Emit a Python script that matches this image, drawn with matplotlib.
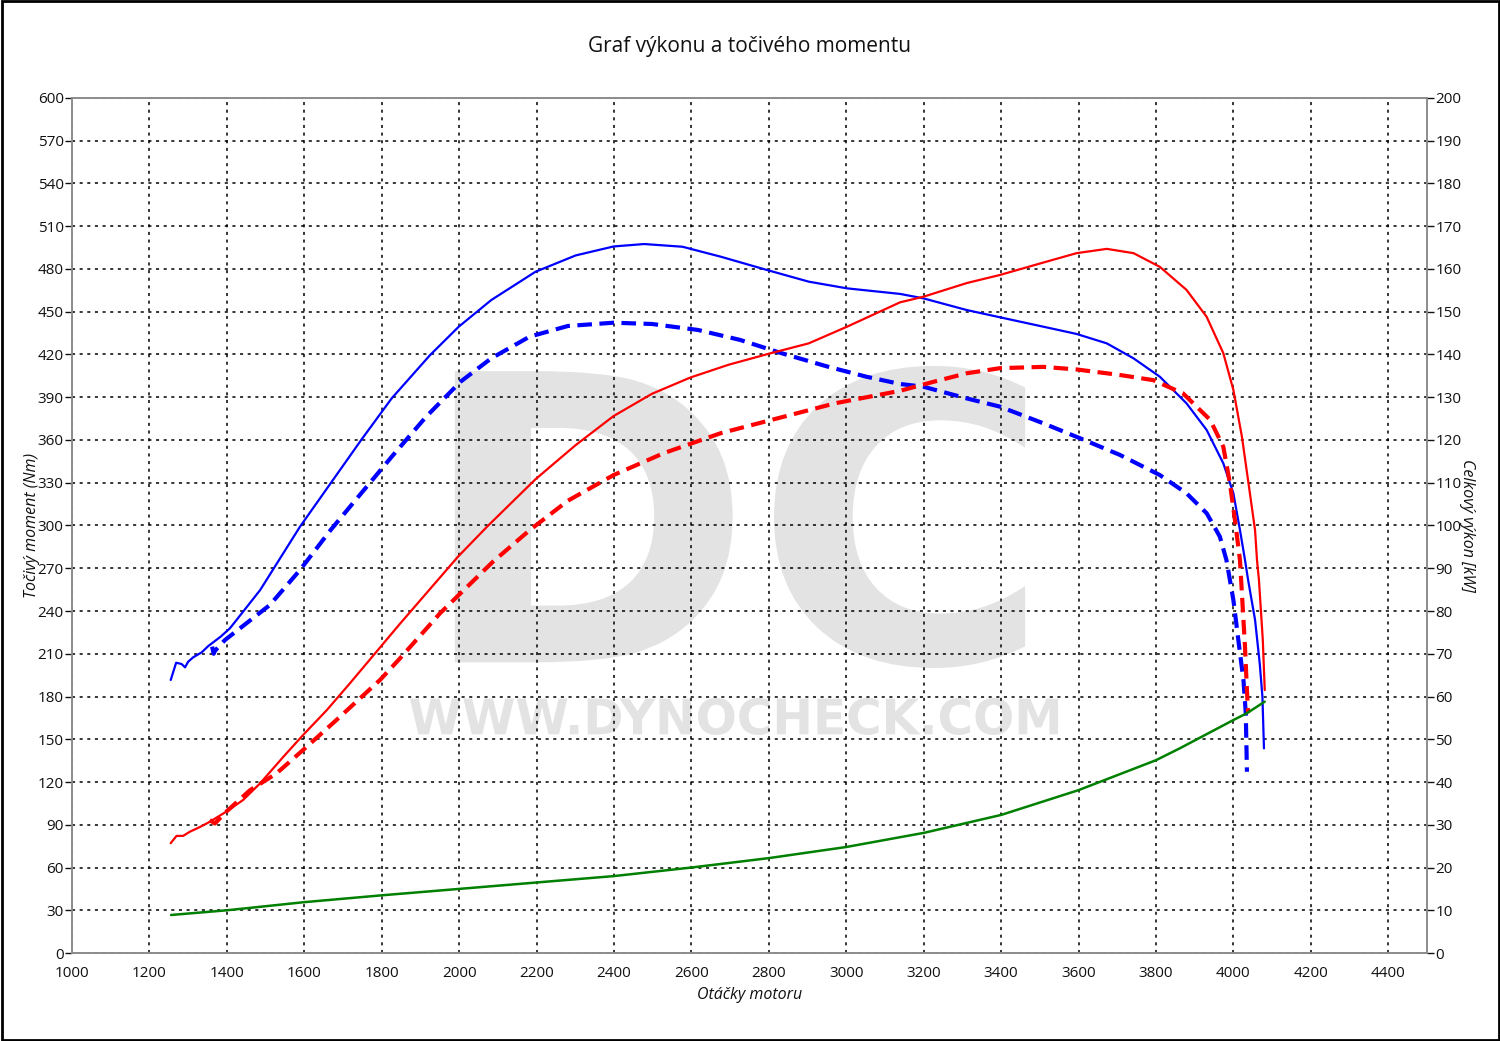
import matplotlib

matplotlib.use("Agg")

import matplotlib.pyplot as plt  # noqa: E402
from matplotlib.font_manager import FontProperties  # noqa: E402
from matplotlib.patches import PathPatch, Rectangle  # noqa: E402
from matplotlib.textpath import TextPath  # noqa: E402
from matplotlib.transforms import Affine2D  # noqa: E402

plt.rcParams["font.family"] = ["Open Sans", "DejaVu Sans"]

_DPI = 100
_INK = "#111111"
_SPINE = "#8c8c8c"
_WATERMARK = "#e3e3e3"

TITLE = "Graf výkonu a točivého momentu"
X_LABEL = "Otáčky motoru"
Y_LABEL = "Točivý moment (Nm)"
Y2_LABEL = "Celkový výkon [kW]"

X_TICKS = list(range(1000, 4401, 200))
Y_TICKS = list(range(0, 601, 30))
Y2_TICKS = list(range(0, 201, 10))

# torque, tuned (Nm)
tq_tuned_rpm = [1255, 1269, 1283, 1292, 1300, 1313, 1335, 1352, 1384, 1408, 1425, 1486,
                1589, 1668, 1747, 1826, 1925, 1999, 2083, 2197, 2301, 2399, 2478, 2577,
                2676, 2795, 2903, 3002, 3139, 3199, 3311, 3397, 3509, 3595, 3673, 3742,
                3810, 3879, 3931, 3974, 4000, 4017, 4030, 4038, 4056, 4068, 4075, 4079]
tq_tuned_nm = [191.6, 203.7, 202.8, 200.5, 204.4, 207.5, 211.0, 215.4, 222.0, 227.9, 233.7,
               254.7, 299.2, 329.6, 360.0, 389.3, 419.6, 439.5, 458.2, 478.0, 489.5, 495.8,
               497.5, 495.6, 488.6, 479.3, 471.1, 466.4, 462.5, 459.4, 451.2, 446.1, 439.5,
               434.4, 427.8, 417.3, 404.4, 385.7, 367.0, 343.6, 322.6, 296.8, 275.8, 261.8,
               233.7, 203.3, 179.9, 143.6]

# torque, stock (Nm)
tq_stock_rpm = [1362, 1366, 1369, 1395, 1511, 1589, 1668, 1747, 1826, 1915, 2004, 2083,
                2182, 2281, 2399, 2498, 2617, 2726, 2834, 2953, 3052, 3139, 3199, 3311,
                3397, 3509, 3604, 3707, 3810, 3879, 3931, 3965, 3982, 3991, 4000, 4017,
                4026, 4032, 4035]
tq_stock_nm = [215.0, 210.0, 212.0, 219.6, 244.2, 268.8, 296.8, 322.6, 348.3, 376.4, 401.0,
               417.3, 432.5, 440.0, 442.3, 441.4, 437.2, 430.2, 420.8, 411.4, 404.4, 399.3,
               397.4, 389.2, 383.4, 371.7, 361.2, 349.5, 335.4, 322.6, 308.6, 292.2, 275.8,
               261.8, 247.7, 210.5, 191.6, 168.4, 127.2]

# power, tuned (kW)
pw_tuned_rpm = [1255, 1270, 1287, 1305, 1331, 1356, 1399, 1442, 1486, 1546, 1597, 1658,
                1718, 1847, 1997, 2073, 2197, 2301, 2399, 2498, 2597, 2696, 2805, 2903,
                3002, 3139, 3199, 3311, 3397, 3509, 3595, 3673, 3742, 3810, 3879, 3931,
                3974, 4000, 4022, 4039, 4056, 4061, 4066, 4076, 4081]
pw_tuned_kw = [25.7, 27.4, 27.4, 28.4, 29.5, 30.7, 33.1, 35.8, 39.7, 45.9, 51.0, 56.8,
               63.1, 77.0, 92.7, 99.8, 110.8, 118.8, 125.6, 130.8, 134.6, 137.6, 140.3,
               142.6, 146.5, 152.2, 153.5, 156.7, 158.6, 161.5, 163.7, 164.7, 163.7, 160.5,
               155.1, 148.8, 140.3, 131.7, 120.8, 109.9, 98.9, 91.9, 87.3, 73.2, 61.5]

# power, stock (kW)
pw_stock_rpm = [1356, 1369, 1399, 1460, 1528, 1597, 1683, 1796, 1847, 1951, 2087, 2182,
                2281, 2399, 2528, 2676, 2824, 2972, 3139, 3225, 3311, 3397, 3509, 3595,
                3707, 3793, 3870, 3940, 3974, 3991, 4004, 4017, 4020, 4030, 4035, 4038]
pw_stock_kw = [31.1, 30.3, 33.1, 38.1, 42.0, 47.5, 54.5, 63.9, 68.9, 79.5, 91.5, 98.9,
               105.8, 111.8, 116.9, 121.6, 125.1, 128.6, 131.5, 133.6, 135.6, 136.8, 137.1,
               136.5, 135.2, 134.0, 130.9, 124.7, 118.4, 109.9, 101.3, 91.9, 87.3, 71.6,
               61.5, 56.1]

# loss power (kW)
loss_rpm = [1256, 1400, 1600, 1800, 2000, 2200, 2400, 2600, 2800, 3000, 3200, 3400, 3600,
            3800, 3862, 4000, 4035, 4081]
loss_kw = [8.9, 10.0, 11.9, 13.5, 15.0, 16.5, 18.0, 20.0, 22.2, 24.8, 28.1, 32.3, 38.1,
           45.1, 47.9, 54.5, 56.1, 58.8]


def _watermark(ax, text, x0, x1, y0, y1):
    path = TextPath((0, 0), text, prop=FontProperties(family="DejaVu Sans", weight="bold"))
    ext = path.get_extents()
    tr = (Affine2D()
          .translate(-ext.x0, -ext.y0)
          .scale((x1 - x0) / ext.width, (y1 - y0) / ext.height)
          .translate(x0, y0))
    patch = PathPatch(tr.transform_path(path), facecolor=_WATERMARK, edgecolor="none",
                      zorder=0.2)
    ax.add_patch(patch)


fig = plt.figure(figsize=(15, 10.41), dpi=_DPI)
ax = fig.add_axes([0.048, 0.0845, 0.9033, 0.8214])
ax2 = ax.twinx()

_watermark(ax, "DC", 1989, 3462, 200, 412)
_watermark(ax, "WWW.DYNOCHECK.COM", 1873, 3547, 153, 179)

line_kw = dict(solid_joinstyle="round", solid_capstyle="round", zorder=3)
ax.plot(tq_tuned_rpm, tq_tuned_nm, color="#0000ff", lw=1.6, **line_kw)
ax.plot(tq_stock_rpm, tq_stock_nm, color="#0000ff", lw=3.0, dashes=(3.5, 1.8), zorder=3)
ax2.plot(pw_tuned_rpm, pw_tuned_kw, color="#ff0000", lw=1.6, **line_kw)
ax2.plot(pw_stock_rpm, pw_stock_kw, color="#ff0000", lw=3.0, dashes=(3.5, 1.8), zorder=3)
ax2.plot(loss_rpm, loss_kw, color="#008000", lw=1.8, **line_kw)

ax.set_xlim(1000, 4500)
ax.set_ylim(0, 600)
ax2.set_ylim(0, 200)
ax.set_xticks(X_TICKS)
ax.set_yticks(Y_TICKS)
ax2.set_yticks(Y2_TICKS)

ax.grid(True, color="black", lw=1.1, dashes=(2, 3))
ax.set_axisbelow(True)

ax.tick_params(axis="x", length=0, pad=9, labelsize=11, colors=_INK)
ax.tick_params(axis="y", length=5, width=1, pad=1, labelsize=11, colors=_INK)
ax2.tick_params(axis="y", length=5, width=1, pad=1, labelsize=11, colors=_INK)

for a in (ax, ax2):
    for side in a.spines.values():
        side.set_color(_SPINE)
        side.set_linewidth(1.2)

fig.text(0.5, 0.955, TITLE, ha="center", va="center", fontsize=15, color=_INK)
ax.set_xlabel(X_LABEL, fontsize=11.5, style="italic", color=_INK, labelpad=5)
ax.set_ylabel(Y_LABEL, fontsize=11.5, style="italic", color=_INK, labelpad=-2)
ax2.set_ylabel(Y2_LABEL, fontsize=11.5, style="italic", color=_INK, rotation=270,
               labelpad=10)

fig.patches.append(Rectangle((0.001, 0.001), 0.998, 0.998, transform=fig.transFigure,
                             fill=False, edgecolor="black", lw=2))

fig.savefig("out.png", dpi=_DPI, facecolor="white")
